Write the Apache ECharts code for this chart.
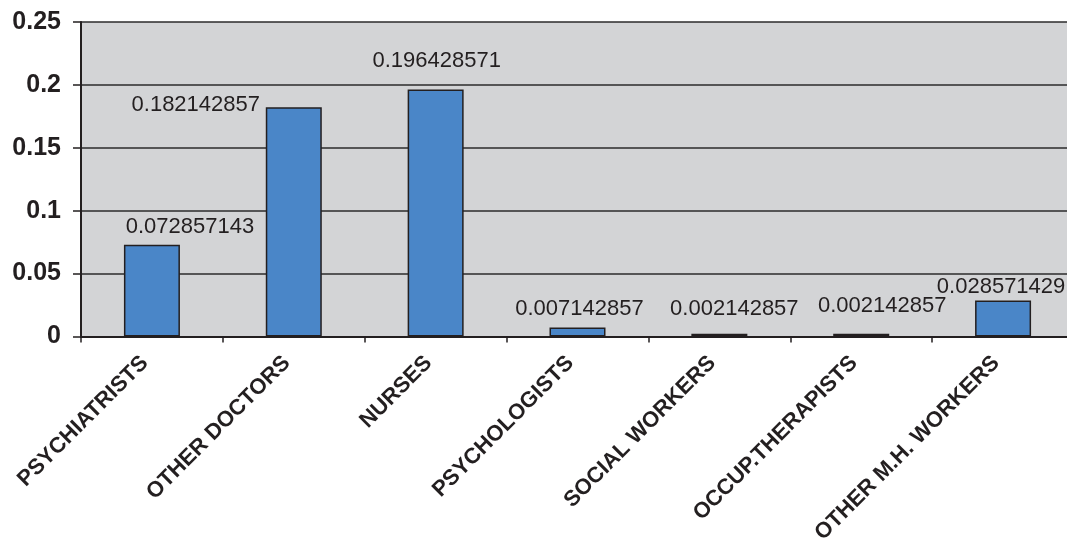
<!DOCTYPE html>
<html>
<head>
<meta charset="utf-8">
<script src="https://cdn.jsdelivr.net/npm/echarts@6/dist/echarts.min.js"></script>
<style>
html,body{margin:0;padding:0;background:#fff;}
#chart{width:1067px;height:539px;}
</style>
</head>
<body>
<div id="chart"></div>
<script>
const categories = ["PSYCHIATRISTS", "OTHER DOCTORS", "NURSES", "PSYCHOLOGISTS", "SOCIAL WORKERS", "OCCUP.THERAPISTS", "OTHER M.H. WORKERS"];
const values = [0.072857143, 0.182142857, 0.196428571, 0.007142857, 0.002142857, 0.002142857, 0.028571429];
const yTicks = [0, 0.05, 0.1, 0.15, 0.2, 0.25];

// label placement offsets (style only), [dx, dy] in px
const labelOffsets = [[38, -2], [-98, 14], [1, -12], [2, -3], [15, -9], [21, -12], [-2, 2]];

const FONT = 'Arial, "Liberation Sans", Helvetica, sans-serif';
const TXT = '#231f20';

const chart = echarts.init(document.getElementById('chart'), null, {renderer: 'canvas'});
chart.setOption({
  animation: false,
  backgroundColor: '#ffffff',
  grid: {
    left: 81, top: 22, width: 993, bottom: 202.5,
    containLabel: false, outerBoundsMode: 'none',
    show: true, backgroundColor: '#d3d4d6', borderWidth: 0
  },
  xAxis: {
    type: 'category',
    data: categories,
    boundaryGap: true,
    axisLine: {show: true, lineStyle: {color: TXT, width: 2}},
    axisTick: {show: true, length: 6, alignWithLabel: false, lineStyle: {color: TXT, width: 1.5}},
    axisLabel: {
      rotate: 45, interval: 0, margin: 16, padding: [0, 10, 0, 0],
      color: TXT, fontFamily: FONT, fontWeight: 'bold', fontSize: 22
    },
    splitLine: {show: false}
  },
  yAxis: {
    type: 'value',
    min: yTicks[0], max: yTicks[yTicks.length - 1], interval: 0.05,
    axisLine: {show: true, lineStyle: {color: TXT, width: 2}},
    axisTick: {show: true, length: 8, lineStyle: {color: TXT, width: 1.5}},
    axisLabel: {
      margin: 20, color: TXT, fontFamily: FONT, fontWeight: 'bold', fontSize: 25,
      formatter: v => String(+v.toFixed(2))
    },
    splitLine: {show: true, lineStyle: {color: '#2b2b2b', width: 1.5}}
  },
  series: [{
    type: 'bar',
    barWidth: 56,
    data: values.map((v, i) => ({
      value: v,
      label: {offset: labelOffsets[i]}
    })),
    itemStyle: {color: '#4a86c8', borderColor: TXT, borderWidth: 1.5},
    label: {
      show: true, position: 'top', distance: 5,
      color: TXT, fontFamily: FONT, fontSize: 22,
      formatter: p => String(p.value)
    }
  }]
});
</script>
</body>
</html>
